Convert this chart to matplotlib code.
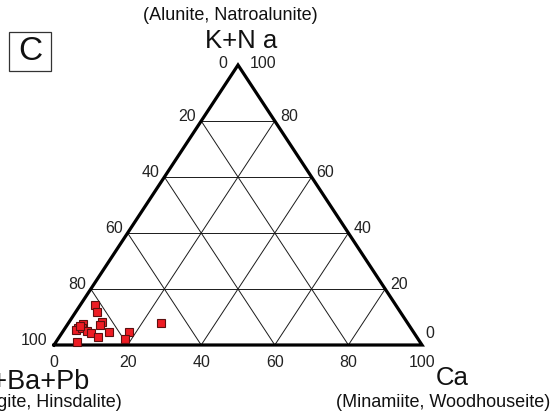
import matplotlib
matplotlib.use('Agg')
import matplotlib.pyplot as plt
import matplotlib.patches as mpatches
import numpy as np

plt.rcParams['font.family'] = ['Liberation Sans', 'DejaVu Sans']

# --- 数据 (wt%, 三端元归一化) ---
ca_pct = np.array([4.0, 5.7, 9.1, 9.0, 4.3, 3.3, 3.2, 4.6, 6.4, 7.9,
                   10.6, 12.7, 18.2, 18.4, 5.6, 25.2, 3.7])
kna_pct = np.array([14.3, 11.8, 8.1, 7.0, 7.4, 6.2, 5.4, 6.2, 5.1, 4.3,
                    2.9, 4.6, 4.5, 2.0, 1.1, 7.7, 6.8])
srbapb_pct = 100.0 - ca_pct - kna_pct

grid_levels = [20, 40, 60, 80]
tick_values = [0, 20, 40, 60, 80, 100]

W, H = 551, 415


def to_xy(ca, k):
    """三元坐标 -> 直角坐标 (底边为 Ca, 高度为 K+Na)"""
    ca = np.asarray(ca, dtype=float)
    k = np.asarray(k, dtype=float)
    return ca / 100.0 + k / 200.0, k / 100.0


def fx(px):
    return px / W


def fy(py):
    return 1 - py / H


fig = plt.figure(figsize=(W / 100, H / 100), dpi=100, facecolor='white')
# 三角形所在区域
ax = fig.add_axes([fx(54), fy(345), 368 / W, 280 / H])
ax.set_xlim(0, 1)
ax.set_ylim(0, 1)
ax.axis('off')

# --- 网格线 ---
grid_kw = dict(color='#1a1a1a', lw=0.7, zorder=1)
for v in grid_levels:
    # K+Na 等值线
    x, y = to_xy([0, 100 - v], [v, v])
    ax.plot(x, y, **grid_kw)
    # Ca 等值线
    x, y = to_xy([v, v], [0, 100 - v])
    ax.plot(x, y, **grid_kw)
    # Sr+Ba+Pb 等值线
    x, y = to_xy([0, 100 - v], [100 - v, 0])
    ax.plot(x, y, **grid_kw)

# --- 外框 ---
x, y = to_xy([0, 100, 0, 0], [0, 0, 100, 0])
ax.plot(x, y, color='black', lw=2.3, solid_joinstyle='miter', zorder=2,
        clip_on=False)

# --- 数据点 ---
x, y = to_xy(ca_pct, kna_pct)
ax.plot(x, y, 's', ms=6.3, mfc='#ee1c24', mec='#5c1010', mew=0.8,
        zorder=3, clip_on=False)

# --- 刻度标签 ---
tick_kw = dict(textcoords='offset pixels', fontsize=11.5, color='#222222')
for v in tick_values:
    # 左边: Sr+Ba+Pb
    off = (-5, 0)
    if v == 0:
        off = (-11, -3)
    elif v == 100:
        off = (-7, 0)
    ax.annotate(str(v), to_xy(0, 100 - v), xytext=off, ha='right',
                va='baseline', **tick_kw)
    # 右边: K+Na
    off = (5, 0)
    if v == 100:
        off = (12, -3)
    elif v == 0:
        off = (3, 7)
    ax.annotate(str(v), to_xy(100 - v, v), xytext=off, ha='left',
                va='baseline', **tick_kw)
    # 底边: Ca
    ax.annotate(str(v), to_xy(v, 0), xytext=(0, -10), ha='center',
                va='top', **tick_kw)

# --- 端元名称 ---
big = dict(fontsize=18.5, color='#111111')
small = dict(fontsize=13, color='#111111')
fig.text(fx(241), fy(48), 'K+N a', ha='center', va='baseline', **big)
fig.text(fx(318), fy(20), '(Alunite, Natroalunite)', ha='right',
         va='baseline', **small)
fig.text(fx(452), fy(385), 'Ca', ha='center', va='baseline', **big)
fig.text(fx(550), fy(407), '(Minamiite, Woodhouseite)', ha='right',
         va='baseline', **small)
fig.text(fx(90), fy(389), 'Sr+Ba+Pb', ha='right', va='baseline',
         fontsize=19.5, color='#111111')
fig.text(fx(122), fy(407), '(Svanbergite, Hinsdalite)', ha='right',
         va='baseline', **small)

# --- 面板编号 ---
box = mpatches.Rectangle((fx(9), fy(71)), fx(51) - fx(9), fy(32) - fy(71),
                         transform=fig.transFigure, fill=False,
                         ec='#333333', lw=0.9)
fig.patches.append(box)
fig.text(fx(30), fy(52), 'C', ha='center', va='center', fontsize=24,
         color='#111111')

fig.savefig('out.png', dpi=100)
